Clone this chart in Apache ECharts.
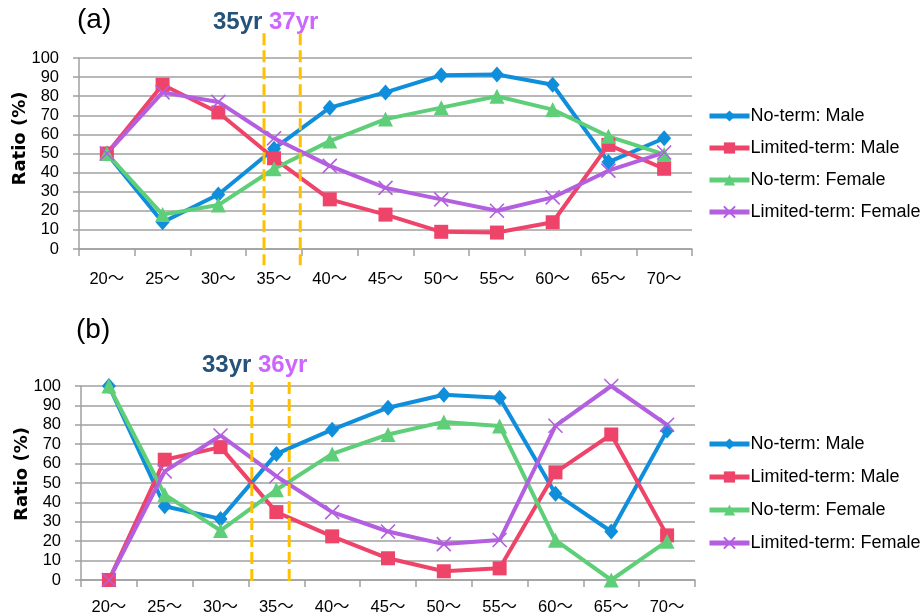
<!DOCTYPE html>
<html>
<head>
<meta charset="utf-8">
<script src="https://cdn.jsdelivr.net/npm/echarts@6/dist/echarts.min.js"></script>
<style>
html,body{margin:0;padding:0;background:#fff;}
#chart{width:922px;height:616px;}
</style>
</head>
<body>
<div id="chart"></div>
<script>
// ---- data ----
const categories = ['20～','25～','30～','35～','40～','45～','50～','55～','60～','65～','70～'];
const seriesNames = ['No-term: Male','Limited-term: Male','No-term: Female','Limited-term: Female'];
const yTicks = [0,10,20,30,40,50,60,70,80,90,100];

// panel (a)
const aNoMale  = [50, 14, 28.5, 52.5, 74, 82, 91, 91.4, 86, 45.5, 58];
const aLimMale = [50, 86, 71.5, 47.5, 26, 18, 9, 8.6, 14, 54.5, 42];
const aNoFem   = [50, 18, 23, 42, 56.5, 68, 74, 80, 73, 59, 49.5];
const aLimFem  = [50, 82, 77, 58, 43.5, 32, 26, 20, 27, 41, 50.5];

// panel (b)
const bNoMale  = [100, 38, 31.5, 65, 77.5, 88.8, 95.5, 94, 44.5, 25, 77];
const bLimMale = [0, 62, 68.5, 35, 22.5, 11.2, 4.5, 6, 55.5, 75, 23];
const bNoFem   = [100, 44, 25.5, 46.5, 65, 75, 81.5, 79.4, 20.5, 0, 20];
const bLimFem  = [0, 56, 74.5, 53.5, 35, 25, 18.5, 20.6, 79.5, 100, 80];

// crossover markers (position along category axis, in category units) and labels
const crossA = [3.32, 3.97];
const crossALabels = ['35yr', '37yr'];
const crossB = [3.06, 3.73];
const crossBLabels = ['33yr', '36yr'];
const panelLabels = ['(a)', '(b)'];

// ---- styling ----
const colors = ['#0F8FDB', '#EF4469', '#5ECF78', '#B35FE0'];
const symbols = ['diamond', 'rect', 'triangle', 'path://M0,0L10,10M10,0L0,10'];
const symbolSizes = [[14,16], 14, 15, 14];
const gridCol = '#A0A0A0';
const tickFont = 'Liberation Sans, Arial, Noto Sans CJK JP, sans-serif';

const grids = [
  {left: 79, right: 230, top: 58, height: 191},
  {left: 81, right: 227, top: 386, height: 194}
];

function xAxisFor(i, margin) {
  return {
    type: 'category', gridIndex: i, data: categories, boundaryGap: true,
    axisLine: {lineStyle: {color: gridCol, width: 1.5}},
    axisTick: {show: true, length: 7, lineStyle: {color: gridCol, width: 1.5}},
    axisLabel: {color: '#000', fontSize: 16.5, fontFamily: tickFont, margin: margin}
  };
}
function hiddenX(i) {
  return {type: 'value', gridIndex: i, min: 0, max: categories.length, show: false,
          splitLine: {show: false}};
}
function yAxisFor(i, shift) {
  return {
    type: 'value', gridIndex: i, min: yTicks[0], max: yTicks[yTicks.length-1], interval: 10,
    name: 'Ratio (%)', nameLocation: 'middle', nameGap: 50, nameMoveOverlap: false,
    nameTextStyle: {fontSize: 18, fontWeight: 'bold', fontFamily: 'DejaVu Sans', color: '#000',
                    padding: [0, 0, 0, shift]},
    axisLine: {show: true, lineStyle: {color: gridCol, width: 1.5}},
    axisTick: {show: true, length: 6, lineStyle: {color: gridCol, width: 1.5}},
    axisLabel: {color: '#000', fontSize: 16.5, fontFamily: tickFont, margin: 20},
    splitLine: {show: true, lineStyle: {color: gridCol, width: 1.5}}
  };
}

function makeSeries(panel, arrays) {
  return arrays.map((arr, k) => ({
    name: seriesNames[k], type: 'line', xAxisIndex: panel, yAxisIndex: panel,
    data: arr, symbol: symbols[k], symbolSize: symbolSizes[k], showAllSymbol: true,
    lineStyle: {color: colors[k], width: 4},
    itemStyle: {color: colors[k], borderColor: colors[k], borderWidth: k === 3 ? 1.6 : 0},
    emphasis: {disabled: true},
    animation: false
  }));
}

function legendFor(top, gap) {
  return {
    orient: 'vertical', left: 702, top: top, itemWidth: 40, itemHeight: 14, itemGap: gap,
    data: seriesNames,
    lineStyle: {width: 5},
    textStyle: {fontSize: 18, fontFamily: tickFont, color: '#000', padding: [0,0,0,-4]}
  };
}

const option = {
  animation: false,
  backgroundColor: '#fff',
  grid: grids,
  xAxis: [xAxisFor(0, 22), xAxisFor(1, 19), hiddenX(0), hiddenX(1)],
  yAxis: [yAxisFor(0, 30), yAxisFor(1, 18)],
  legend: [legendFor(102, 14), legendFor(430, 15)],
  series: [
    ...makeSeries(0, [aNoMale, aLimMale, aNoFem, aLimFem]),
    ...makeSeries(1, [bNoMale, bLimMale, bNoFem, bLimFem])
  ]
};

const chart = echarts.init(document.getElementById('chart'), null, {renderer: 'canvas'});
chart.setOption(option);

// dashed crossover lines and labels placed through the axes' own scales
function dashed(panel, positions, yTop, yBottom) {
  return positions.map(p => {
    const x = chart.convertToPixel({xAxisIndex: 2 + panel}, p);
    const y1 = chart.convertToPixel({yAxisIndex: panel}, yTop);
    const y2 = chart.convertToPixel({yAxisIndex: panel}, yBottom);
    return {
      type: 'line', z: 50,
      shape: {x1: x, y1: y1, x2: x, y2: y2},
      style: {stroke: '#FFC000', lineWidth: 3, lineDash: [12, 5]}
    };
  });
}
const labelFont = 'bold 24px "Liberation Sans"';
const panelFont = '28px "Liberation Sans"';
const graphics = [
  ...dashed(0, crossA, 113, -8.5),
  ...dashed(1, crossB, 102, -2.6),
  {type: 'text', left: 77, top: 6, style: {text: panelLabels[0], font: panelFont, fill: '#000'}},
  {type: 'text', left: 76, top: 316, style: {text: panelLabels[1], font: panelFont, fill: '#000'}},
  {type: 'text', left: 213, top: 10, style: {text: crossALabels[0], font: labelFont, fill: '#24527A'}},
  {type: 'text', left: 269, top: 10, style: {text: crossALabels[1], font: labelFont, fill: '#CC66FF'}},
  {type: 'text', left: 202, top: 353, style: {text: crossBLabels[0], font: labelFont, fill: '#24527A'}},
  {type: 'text', left: 258, top: 353, style: {text: crossBLabels[1], font: labelFont, fill: '#CC66FF'}}
];
chart.setOption({graphic: graphics});
</script>
</body>
</html>
